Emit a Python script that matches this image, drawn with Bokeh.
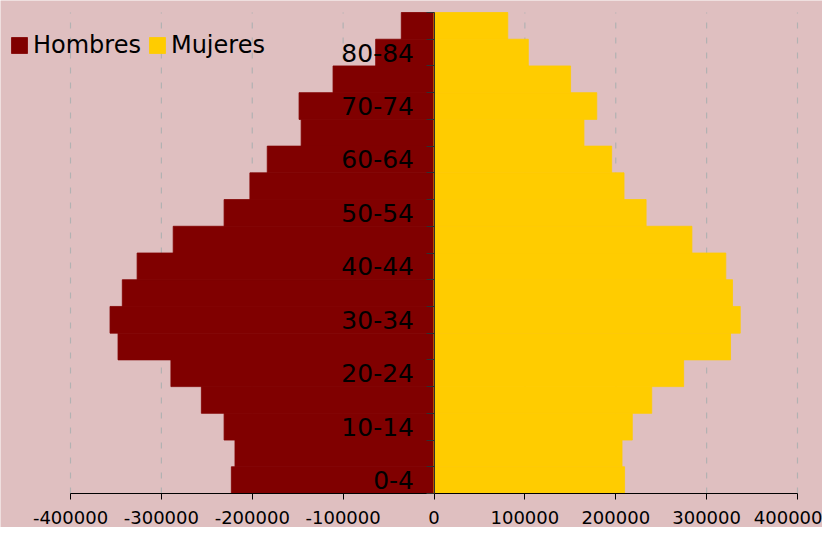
from bokeh.plotting import figure
from bokeh.models import (Range1d, LinearAxis, FixedTicker, PrintfTickFormatter,
                          Legend, LegendItem)
from bokeh.embed import file_html
from bokeh.resources import INLINE

age_groups = ["0-4", "5-9", "10-14", "15-19", "20-24", "25-29", "30-34", "35-39",
              "40-44", "45-49", "50-54", "55-59", "60-64", "65-69", "70-74",
              "75-79", "80-84", "85+"]
hombres = [-223000, -219000, -231000, -256000, -289500, -347700, -356500, -343000,
           -326700, -287000, -231000, -202600, -183500, -146200, -148500,
           -111100, -64200, -36000]
mujeres = [209700, 206900, 218200, 239600, 274700, 326300, 337000, 328500,
           321100, 283800, 233400, 209100, 195500, 165000, 179100,
           150300, 103800, 81200]
x_ticks = [-400000, -300000, -200000, -100000, 0, 100000, 200000, 300000, 400000]

BG = "#DFBFC0"
FONT = "DejaVu Sans"

W, H = 822, 527
AX_LEFT_PX, AX_RIGHT_PX = 70, 797      # pixel span of the -400000..400000 axis
BAR_TOP_PX, BAR_BOTTOM_PX = 12, 493    # pixel span of the stacked age rows

n = len(age_groups)
ypos = list(range(n))

x_per_px = (x_ticks[-1] - x_ticks[0]) / (AX_RIGHT_PX - AX_LEFT_PX)
x_start = x_ticks[0] - AX_LEFT_PX * x_per_px
x_end = x_ticks[-1] + (W - AX_RIGHT_PX) * x_per_px

y_lo, y_hi = -0.5, n - 0.5
y_per_px = (y_hi - y_lo) / (BAR_BOTTOM_PX - BAR_TOP_PX)
y_start = y_lo - (H - BAR_BOTTOM_PX) * y_per_px
y_end = y_hi + BAR_TOP_PX * y_per_px

p = figure(frame_width=W, frame_height=H,
           x_range=Range1d(x_start, x_end), y_range=Range1d(y_start, y_end),
           output_backend="svg", toolbar_location=None, y_axis_location=None,
           min_border_left=0, min_border_right=0, min_border_top=0, min_border_bottom=0,
           background_fill_color=BG, border_fill_color=BG, outline_line_color=None)

for g in p.grid:
    g.visible = False

# dashed vertical gridlines at each x tick, spanning the rows only
p.segment(x0=x_ticks, x1=x_ticks, y0=[y_lo] * len(x_ticks), y1=[y_hi] * len(x_ticks),
          line_color="#B2B2B2", line_width=1.2, line_dash="6 9")

r_h = p.hbar(y=ypos, left=0, right=hombres, height=1.0, fill_color="#800000",
             line_color="#800000", line_width=0.8)
r_m = p.hbar(y=ypos, left=0, right=mujeres, height=1.0, fill_color="#FFCC00",
             line_color="#FFCC00", line_width=0.8)

xa = p.xaxis[0]
xa.fixed_location = y_lo
xa.ticker = FixedTicker(ticks=x_ticks)
xa.formatter = PrintfTickFormatter(format="%d")
xa.bounds = (x_ticks[0], x_ticks[-1])
xa.axis_line_color = "black"
xa.major_tick_out = 6
xa.major_tick_in = 0
xa.minor_tick_line_color = None
xa.major_tick_line_color = "black"
xa.major_label_text_font = FONT
xa.major_label_text_font_size = "18px"
xa.major_label_text_color = "black"
xa.major_label_standoff = 11

# y axis at x = 0: boundary ticks
bound_axis = LinearAxis(fixed_location=0, bounds=(y_lo, y_hi),
                        ticker=FixedTicker(ticks=[i - 0.5 for i in range(n + 1)]),
                        major_tick_out=8, major_tick_in=0,
                        minor_tick_line_color=None,
                        axis_line_color="#303030", major_tick_line_color="#303030",
                        major_label_text_color=None)
p.add_layout(bound_axis, "left")

# y axis at x = 0: labels every other group
label_ticks = list(range(0, n, 2))
label_axis = LinearAxis(fixed_location=0,
                        ticker=FixedTicker(ticks=label_ticks),
                        major_label_overrides={i: age_groups[i] for i in label_ticks},
                        major_tick_out=0, major_tick_in=0,
                        minor_tick_line_color=None,
                        axis_line_color=None, major_tick_line_color=None,
                        major_label_text_font=FONT,
                        major_label_text_font_size="25px",
                        major_label_text_color="black",
                        major_label_standoff=20)
p.add_layout(label_axis, "left")

legend = Legend(items=[LegendItem(label="Hombres", renderers=[r_h]),
                       LegendItem(label="Mujeres", renderers=[r_m])],
                orientation="horizontal", location=(9, 468),
                padding=0, margin=0, spacing=6,
                glyph_width=20, glyph_height=20, label_height=20, label_standoff=4,
                label_text_font=FONT, label_text_font_size="24px",
                label_text_color="black",
                border_line_color=None, background_fill_alpha=0)
p.add_layout(legend, "center")

open("out.html", "w").write(file_html(p, INLINE))
